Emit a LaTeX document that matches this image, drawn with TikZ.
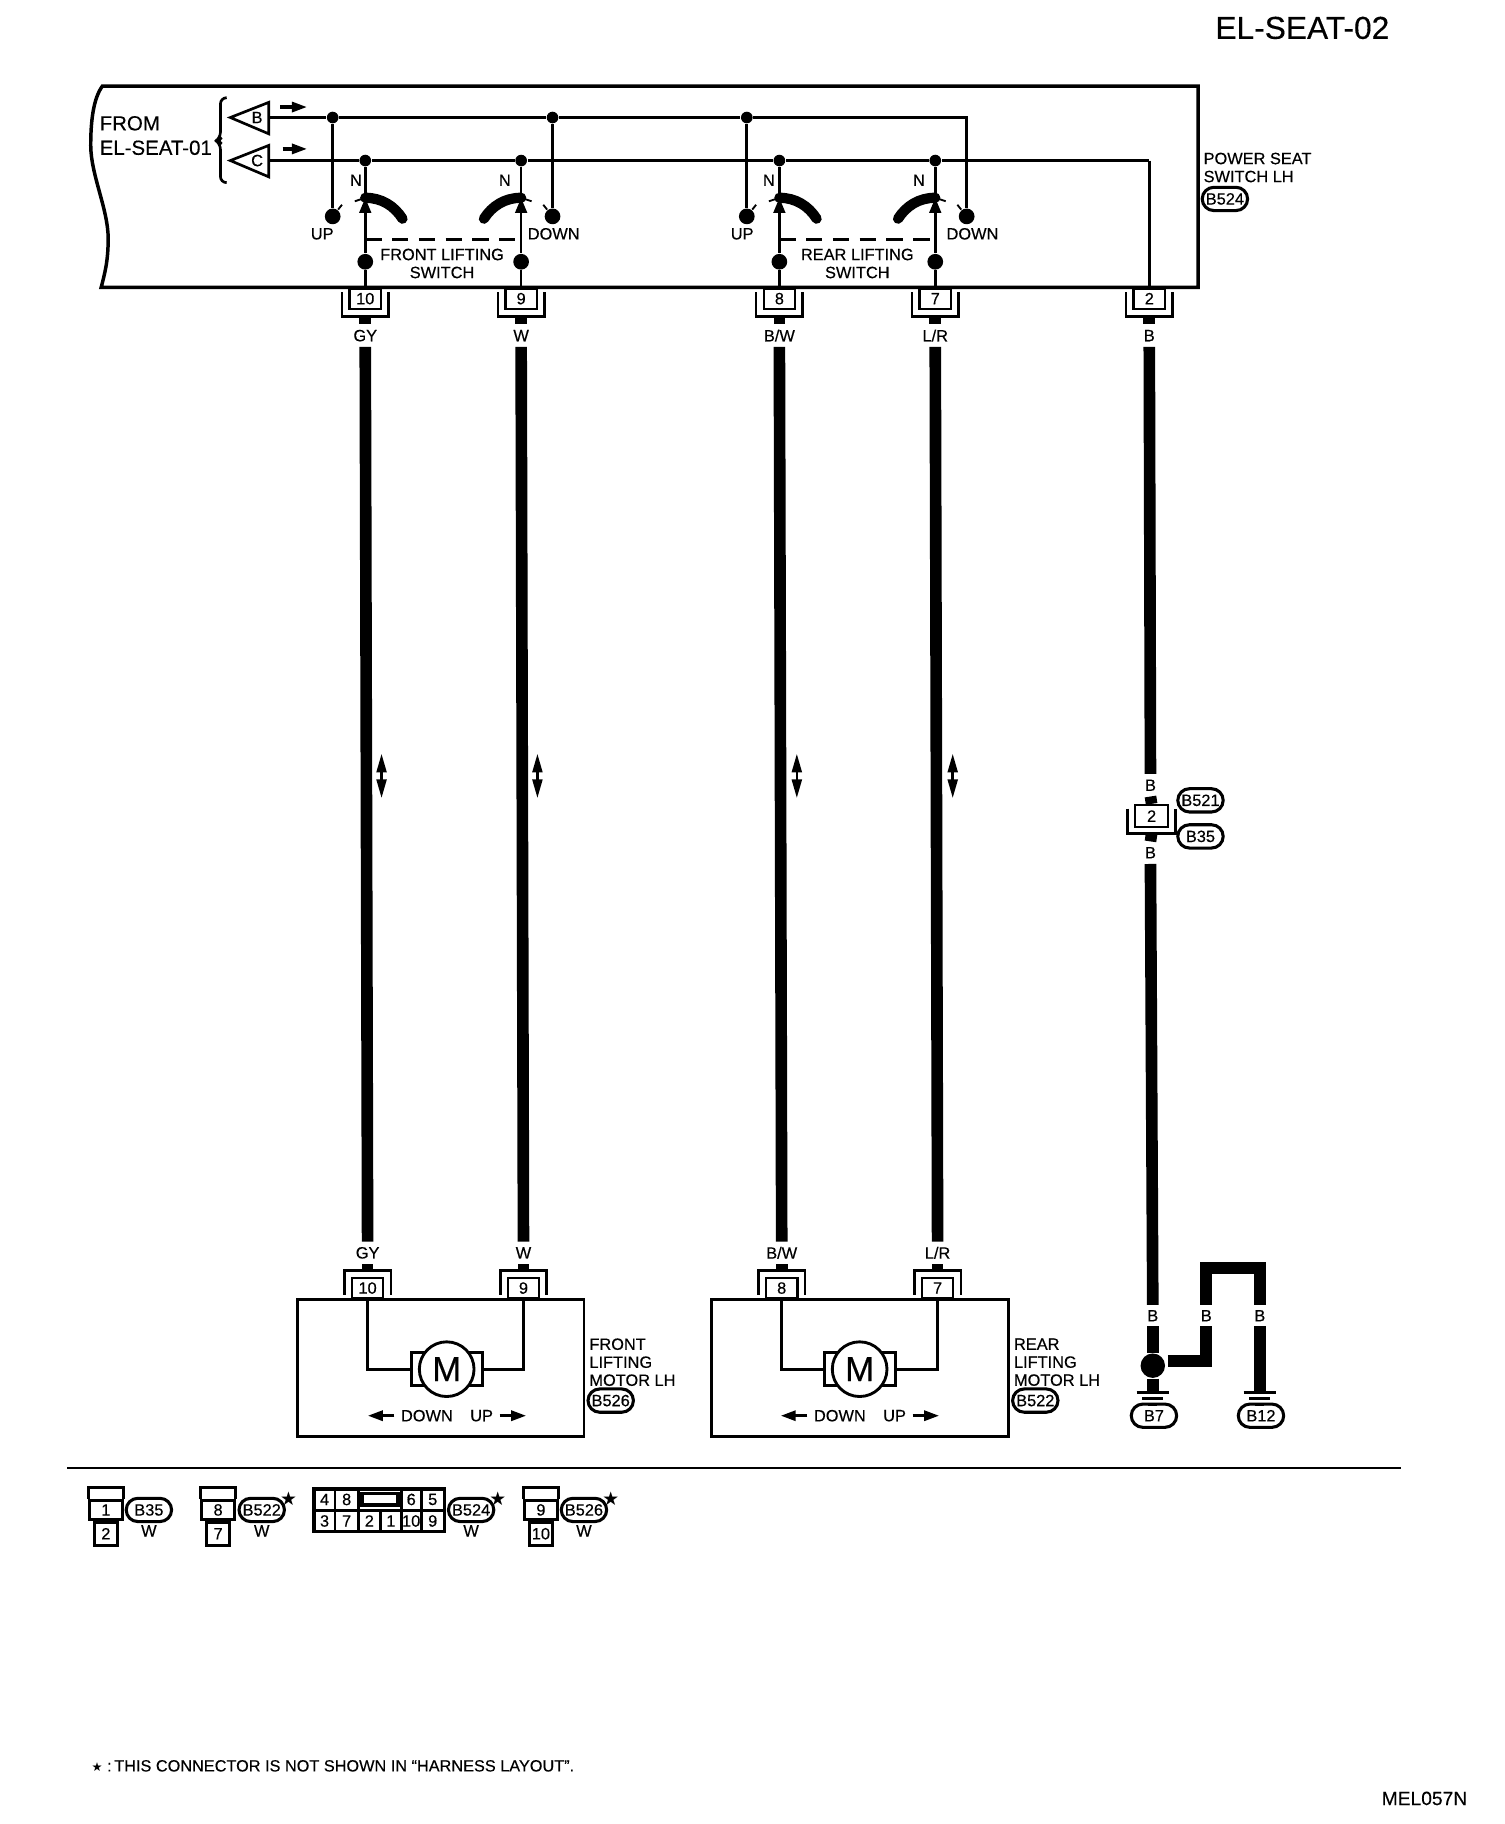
\documentclass[tikz,border=0pt]{standalone}
\usepackage{fontspec}
\setmainfont[FakeBold=.35]{Liberation Sans}
\newfontfamily\symfont{DejaVu Sans}
\usetikzlibrary{arrows.meta,positioning,calc,shapes.misc}
\tikzset{
    lbl/.style={font=\fontsize{4}{4.4}\selectfont, inner sep=0pt, align=center},
    biglbl/.style={font=\fontsize{5}{5.5}\selectfont, inner sep=0pt},
    wirelbl/.style={lbl, minimum height=.18cm},
    tag/.style={lbl, draw, rounded rectangle, line width=.75pt, minimum width=.39cm, minimum height=.2cm},
    pin/.style={lbl, draw, line width=.55pt, minimum width=.27cm, minimum height=.175cm},
    tile/.style={lbl, draw, line width=.7pt, minimum width=.28cm, minimum height=.16cm},
    jdot/.style={circle, fill, inner sep=0pt, minimum size=.1cm},
    tdot/.style={circle, fill, inner sep=0pt, minimum size=.135cm},
    heavy/.style={line width=1mm},
    thinw/.style={line width=.65pt},
    tick/.style={line width=.45pt},
    sarrow/.style={line width=.8pt, -{Triangle[length=1.3mm,width=.85mm]}},
    dblarrow/.style={line width=.6pt, {Triangle[length=1.6mm,width=.85mm]}-{Triangle[length=1.6mm,width=.85mm]}},
    starlbl/.style={inner sep=0pt, font=\symfont\fontsize{4.6}{4.6}\selectfont}
}
\begin{document}
\begin{tikzpicture}[x=.01cm,y=-.01cm]
    \useasboundingbox (0,0) rectangle (1293.2,1568);
    \node[anchor=east, inner sep=0pt, font=\fontsize{7.75}{8}\selectfont] (title) at (1195,24) {EL-SEAT-02};

    % Switch housing
    \draw[line width=.85pt] (1030,74) -- (88,74) .. controls (80,85) and (78,105) .. (78,125)
        .. controls (78,150) and (93,180) .. (93,205) .. controls (93,225) and (90,235) .. (87,247)
        -- (1030,247) -- cycle;
    \node[biglbl, anchor=west] (from) at (85,106) {FROM};
    \node[biglbl, anchor=west] (fromb) at (85,127) {EL-SEAT-01};
    \draw[thinw, rounded corners=1.5pt] (194,84) -- (189.5,84) -- (189.5,119) -- (186,121) -- (189.5,123) -- (189.5,157) -- (194,157);

    % Feeds
    \draw[thinw] (231,88) -- (198,101) -- (231,115) -- cycle;
    \draw[thinw] (231,125) -- (198,138) -- (231,152) -- cycle;
    \node[lbl] (feedb) at (221,101) {B};
    \node[lbl] (feedc) at (221,138) {C};
    \coordinate (fbo) at (231,101);
    \coordinate (fco) at (231,138);
    \draw[sarrow] (241,92) -- (264,92);
    \draw[sarrow] (243,128) -- (264,128);

    % Bus junctions
    \foreach \n/\x in {1/286,2/475,3/642} \node[jdot] (jb\n) at (\x,101) {};
    \foreach \n/\x in {10/314,9/448,8/670,7/804} \node[jdot] (jc\n) at (\x,138) {};
    \coordinate (cb) at (831,101);
    \coordinate (cc) at (988,138);

    % Switches
    \foreach \n/\xp/\xc/\dr/\xn/\xl/\txt in {10/314/286/1/306/277/UP,9/448/475/-1/434/476/DOWN,8/670/642/1/661/638/UP,7/804/831/-1/790/836/DOWN} {
        \coordinate (piv\n) at (\xp,170);
        \node[tdot] (dot\n) at (\xp,225) {};
        \node[tdot] (con\n) at (\xc,186) {};
        \node[lbl] (nl\n) at (\xn,155) {N};
        \node[lbl] (ul\n) at (\xl,201) {\txt};
        \draw[thinw] (jc\n) -- (piv\n);
        \draw[thinw, -{Triangle[length=1.3mm,width=1mm]}] (dot\n) -- (piv\n);
        \draw[line width=2.5pt, line cap=round] (\xp,170) .. controls ({\xp+\dr*14},170) and ({\xp+\dr*25},177) .. ({\xp+\dr*32},188);
        \draw[tick] (\xp,170) -- ({\xp-\dr*9},173);
        \draw[tick] (con\n) -- ({\xc+\dr*8},176);
    }
    \draw[thinw] (fbo) -- (jb1) -- (jb2) -- (jb3) -- (cb) -- (con7);
    \draw[thinw] (fco) -- (jc10) -- (jc9) -- (jc8) -- (jc7) -- (cc);
    \draw[thinw] (jb1) -- (con10);
    \draw[thinw] (jb2) -- (con9);
    \draw[thinw] (jb3) -- (con8);
    \draw[thinw, dash pattern=on 1.4mm off .9mm] (314,206) -- (448,206);
    \draw[thinw, dash pattern=on 1.4mm off .9mm] (670,206) -- (804,206);
    \node[lbl] (swf) at (380,226.5) {FRONT LIFTING\\SWITCH};
    \node[lbl] (swr) at (737,226.5) {REAR LIFTING\\SWITCH};
    \node[lbl, anchor=west, align=left] (psw) at (1034,144) {POWER SEAT\\SWITCH LH};
    \node[tag] (b524) at (1053,171) {B524};

    % Harness wires and both connector ends
    \foreach \n/\xt/\xb/\w/\xa in {10/314/316/GY/328,9/448/450/W/462,8/670/672/B\slash W/685,7/804/806/L\slash R/819} {
        \node[pin, anchor=north] (ptop\n) at (\xt,247) {\n};
        \draw[thinw] ([xshift=-.055cm,yshift=-.04cm]ptop\n.north west) |- ([yshift=-.055cm]ptop\n.south) -| ([xshift=.055cm,yshift=-.04cm]ptop\n.north east);
        \node[wirelbl] (lt\n) at (\xt,288.5) {\w};
        \node[wirelbl] (lb\n) at (\xb,1077) {\w};
        \node[pin, anchor=south] (pbot\n) at (\xb,1117) {\n};
        \draw[thinw] ([xshift=-.055cm,yshift=.04cm]pbot\n.south west) |- ([yshift=.055cm]pbot\n.north) -| ([xshift=.055cm,yshift=.04cm]pbot\n.south east);
        \draw[thinw] (dot\n) -- (ptop\n);
        \draw[heavy] ([yshift=-.055cm]ptop\n.south) -- (lt\n.north);
        \draw[heavy] (lt\n.south) -- (lb\n.north);
        \draw[heavy] (lb\n.south) -- ([yshift=.055cm]pbot\n.north);
        \draw[dblarrow] (\xa,648) -- (\xa,686);
    }

    % Ground wire
    \node[pin, anchor=north] (ptop2) at (988,247) {2};
    \draw[thinw] ([xshift=-.055cm,yshift=-.04cm]ptop2.north west) |- ([yshift=-.055cm]ptop2.south) -| ([xshift=.055cm,yshift=-.04cm]ptop2.north east);
    \draw[thinw] (cc) -- (ptop2);
    \node[wirelbl] (lt2) at (988,288.5) {B};
    \node[wirelbl] (lsa) at (989,675) {B};
    \node[pin, minimum width=.28cm, minimum height=.19cm] (spl) at (990,701.5) {2};
    \draw[thinw] ([xshift=-.055cm,yshift=-.04cm]spl.north west) |- ([yshift=-.045cm]spl.south) -| ([xshift=.055cm,yshift=-.04cm]spl.north east);
    \node[wirelbl] (lsb) at (989,733) {B};
    \node[tag] (b521) at (1032,688) {B521};
    \node[tag] (b35a) at (1032,719) {B35};
    \node[wirelbl, minimum height=.17cm] (lg1) at (991,1131) {B};
    \node[wirelbl, minimum height=.17cm] (lg2) at (1037,1131) {B};
    \node[wirelbl, minimum height=.17cm] (lg3) at (1083,1131) {B};
    \node[circle, fill, inner sep=0pt, minimum size=.21cm] (gdot) at (991,1174) {};
    \coordinate (gt1) at (991,1197);
    \coordinate (gt2) at (1083,1197);
    \coordinate (ga) at (1037,1170);
    \coordinate (gb) at (1037,1090);
    \coordinate (gc) at (1083,1090);
    \draw[heavy] ([yshift=-.055cm]ptop2.south) -- (lt2.north);
    \draw[heavy] (lt2.south) -- (lsa.north);
    \draw[heavy] (lsa.south) -- (spl.north);
    \draw[heavy] ([yshift=-.045cm]spl.south) -- (lsb.north);
    \draw[heavy] (lsb.south) -- (lg1.north);
    \draw[heavy] (lg1.south) -- (gdot);
    \draw[heavy] (gdot) -- (gt1);
    \draw[heavy] (1004,1170) -- (ga) -- (lg2.south);
    \draw[heavy] (lg2.north) -- (gb) -- (gc) -- (lg3.north);
    \draw[heavy] (lg3.south) -- (gt2);
    \foreach \n/\x/\lab in {1/991/B7,2/1083/B12} {
        \draw[line width=.7pt] (\x-14,1197) -- (\x+14,1197);
        \draw[line width=.7pt] (\x-9,1202.5) -- (\x+9,1202.5);
        \draw[line width=.7pt] (\x-4,1207) -- (\x+4,1207);
        \node[tag] (gnd\n) at (\x+1,1217) {\lab};
    }

    % Motors
    \foreach \nm/\xa/\xb/\xm/\pa/\pb/\lx/\lab/\name in {f/256/502/384/10/9/506/B526/FRONT,r/612/867/739/8/7/871/B522/REAR} {
        \draw[line width=.7pt] (\xa,1117) rectangle (\xb,1235);
        \node[draw, line width=.7pt, minimum width=.61cm, minimum height=.28cm] (body\nm) at (\xm,1177) {};
        \node[draw, circle, fill=white, line width=.7pt, inner sep=0pt, minimum size=.47cm, font=\fontsize{8.5}{8.5}\selectfont] (mot\nm) at (\xm,1177) {M};
        \draw[thinw] (pbot\pa) |- (body\nm.west);
        \draw[thinw] (pbot\pb) |- (body\nm.east);
        \node[lbl] (dn\nm) at (\xm-17,1217) {DOWN};
        \node[lbl] (up\nm) at (\xm+30,1217) {UP};
        \draw[sarrow] (dn\nm.west)+(-5,0) -- +(-28,0);
        \draw[sarrow] (up\nm.east)+(5,0) -- +(28,0);
        \node[lbl, anchor=west, align=left] (nm\nm) at (\lx,1171) {\name\\LIFTING\\MOTOR LH};
        \node[tag] (tg\nm) at (\lx+19,1204) {\lab};
    }

    % Divider
    \draw[line width=.7pt] (58,1262) -- (1204,1262);

    % Connector faces
    \foreach \n/\x/\pa/\pb/\lab/\xg/\mk in {a/91/1/2/B35/128/,b/187.5/8/7/B522/225/★,d/465/9/10/B526/502/★} {
        \node[tile] (fa\n) at (\x,1298) {\pa};
        \draw[line width=.7pt] (fa\n.north west) -- ++(0,-10) -| (fa\n.north east);
        \node[tile, minimum width=.2cm, minimum height=.2cm] (fl\n) [below=0pt of fa\n] {\pb};
        \node[tag] (ft\n) at (\xg,1298) {\lab};
        \node[lbl] (fw\n) at (\xg,1316) {W};
        \node[starlbl] (fs\n) at (\xg+23,1288) {\mk};
    }
    \foreach \pa/\xc/\cw in {4/279/.18,8/298/.2,6/353.5/.17,5/372/.2} \node[tile, minimum width=\cw cm, minimum height=.185cm] (gt\pa) at (\xc,1289) {\pa};
    \foreach \pa/\xc/\cw in {3/279/.18,7/298/.2,2/317.5/.19,1/336/.18,10/353.5/.17,9/372/.2} \node[tile, minimum width=\cw cm, minimum height=.185cm] (gb\pa) at (\xc,1307.5) {\pa};
    \node[draw, line width=.9pt, inner sep=0pt, minimum width=.31cm, minimum height=.1cm] (slot) at (326.5,1289) {};
    \draw[line width=.9pt] (270,1280) rectangle (382,1316.5);
    \node[tag] (ftc) at (405,1298) {B524};
    \node[lbl] (fwc) at (405,1316) {W};
    \node[starlbl] (fsc) at (428,1288) {★};

    % Notes
    \node[lbl, anchor=west, font=\fontsize{3.98}{4}\selectfont] (note) at (78,1518) {{\symfont\fontsize{3}{3}\selectfont ★} :\,THIS CONNECTOR IS NOT SHOWN IN ``HARNESS LAYOUT''.};
    \node[anchor=east, inner sep=0pt, font=\fontsize{4.7}{4.7}\selectfont] (code) at (1262,1546) {MEL057N};
\end{tikzpicture}
\end{document}
